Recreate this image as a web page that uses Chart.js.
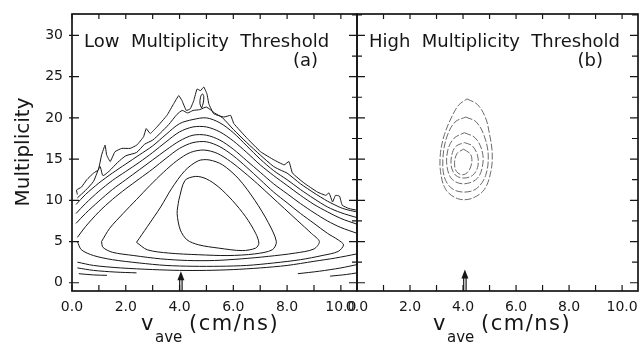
<!DOCTYPE html>
<html>
<head>
<meta charset="utf-8">
<script src="https://cdn.jsdelivr.net/npm/chart.js@4/dist/chart.umd.min.js"></script>
<style>
body { margin: 0; background: #fff; }
#wrap { position: relative; width: 640px; height: 345px; }
#wrap canvas { position: absolute; left: 0; top: 0; }
</style>
</head>
<body>
<div id="wrap">
  <canvas id="low" width="640" height="345"></canvas>
  <canvas id="high" width="640" height="345"></canvas>
</div>
<script>
const ink = '#161616';
const tickFont = { family: 'DejaVu Sans', size: 14 };

const xRange = [0, 10.6];
const yRange = [-1, 32.6];
const panelTitles = ['Low  Multiplicity  Threshold', 'High  Multiplicity  Threshold'];
const panelTags = ['(a)', '(b)'];
const yTitle = 'Multiplicity';
const arrowX = [4.05, 4.07];
const arrowTip = [1.4, 1.6];

// panel (a): open contours, outer to inner
const lowLevel1 = [[0.2,10.7],[0.17,11.25],[0.35,11.6],[0.55,12.5],[0.8,13.3],[0.98,13.7],[1.1,15.5],[1.23,16.7],[1.29,15.5],[1.42,14.7],[1.6,15.9],[1.85,16.3],[2.16,16.3],[2.41,16.7],[2.66,17.7],[2.76,18.7],[2.91,18.1],[3.16,18.9],[3.53,20.3],[3.78,21.7],[3.97,22.7],[4.09,22.1],[4.25,20.9],[4.4,21.1],[4.53,22.1],[4.65,23.5],[4.78,23.3],[4.9,23.75],[5.02,22.9],[5.09,21.7],[5.27,20.5],[5.65,20.1],[5.9,20.3],[6.02,19.3],[6.52,17.5],[7.01,15.9],[7.51,14.9],[7.89,14.3],[8.07,14.7],[8.2,13.3],[8.63,12.1],[9.13,11.0],[9.44,10.6],[9.56,10.9],[9.69,9.8],[9.8,10.6],[9.95,10.5],[10.05,9.4],[10.3,9.0],[10.6,8.8]];
const lowLoop = [[4.82,21.2],[4.88,21.8],[4.9,22.6],[4.85,22.9],[4.78,22.5],[4.76,21.7],[4.82,21.2]];
const lowLevel2 = [[0.2,10.3],[0.5,11.2],[0.8,12.3],[1.04,14.1],[1.15,13.0],[1.4,13.6],[1.7,14.6],[2.0,15.4],[2.4,15.8],[2.7,16.8],[3.0,17.3],[3.3,18.2],[3.6,19.2],[3.9,20.4],[4.1,20.9],[4.3,20.6],[4.5,20.9],[4.75,21.0],[5.0,21.3],[5.3,20.6],[5.6,20.0],[6.0,18.6],[6.5,17.0],[7.0,15.5],[7.5,14.1],[7.8,13.6],[8.0,13.3],[8.5,12.0],[9.0,10.9],[9.5,9.9],[10.0,9.1],[10.3,8.8],[10.6,8.6]];
const lowLevel3 = [[0.15,9.5],[0.5,10.7],[1.0,12.1],[1.5,13.3],[2.0,14.4],[2.5,15.5],[3.0,16.6],[3.5,18.0],[4.0,19.3],[4.5,19.8],[5.0,20.0],[5.5,19.4],[6.0,18.2],[6.5,16.6],[7.0,15.0],[7.5,13.6],[8.0,12.5],[8.5,11.3],[9.0,10.2],[9.5,9.2],[10.0,8.5],[10.6,7.9]];
const lowLevel4 = [[0.15,8.4],[0.5,9.6],[1.0,11.1],[1.5,12.4],[2.0,13.5],[2.5,14.6],[3.0,15.8],[3.5,17.1],[4.0,18.3],[4.5,18.9],[5.0,18.9],[5.5,18.3],[6.0,17.2],[6.5,15.8],[7.0,14.3],[7.5,13.0],[8.0,11.8],[8.5,10.6],[9.0,9.5],[9.5,8.6],[10.0,7.8],[10.6,7.1]];
const lowLevel5 = [[0.15,7.2],[0.5,8.4],[1.0,9.9],[1.5,11.3],[2.0,12.5],[2.5,13.7],[3.0,14.9],[3.5,16.1],[4.0,17.2],[4.5,17.9],[5.0,17.9],[5.5,17.3],[6.0,16.2],[6.5,14.8],[7.0,13.4],[7.5,12.0],[8.0,10.8],[8.5,9.6],[9.0,8.5],[9.5,7.5],[10.0,6.7],[10.6,6.0]];

// panel (a): closed contours, outer to inner
const lowRing4 = [[0.2,5.5],[0.5,6.8],[1.0,8.6],[1.5,10.1],[2.0,11.4],[2.5,12.6],[3.0,13.8],[3.5,15.1],[4.0,16.3],[4.5,17.0],[5.0,17.1],[5.5,16.5],[6.0,15.4],[6.5,14.0],[7.0,12.5],[7.5,11.0],[8.0,9.7],[8.5,8.4],[9.0,7.2],[9.5,6.0],[9.9,5.2],[10.1,4.6],[9.9,3.8],[9.3,3.3],[8.5,2.8],[7.5,2.4],[6.5,2.1],[5.5,2.0],[4.5,2.0],[3.5,2.1],[2.5,2.4],[1.5,2.8],[0.8,3.3],[0.35,4.0],[0.2,5.0]];
const lowRing3 = [[1.1,5.0],[1.4,6.6],[1.9,8.4],[2.4,10.1],[2.9,11.8],[3.4,13.4],[3.9,14.8],[4.4,15.8],[4.9,16.1],[5.4,15.7],[5.9,14.7],[6.4,13.4],[6.9,12.0],[7.4,10.5],[7.9,9.0],[8.4,7.5],[8.9,6.0],[9.2,5.0],[9.0,4.1],[8.3,3.6],[7.3,3.2],[6.3,2.9],[5.3,2.7],[4.3,2.7],[3.3,2.9],[2.3,3.3],[1.5,3.7],[1.15,4.3],[1.1,5.0]];
const lowRing2 = [[2.4,4.9],[2.8,6.8],[3.3,9.2],[3.7,11.4],[4.2,13.6],[4.7,14.8],[5.1,14.9],[5.6,14.3],[6.2,12.6],[6.8,10.0],[7.3,7.3],[7.6,5.0],[7.45,4.0],[6.8,3.5],[5.8,3.3],[4.7,3.4],[3.6,3.6],[2.8,4.0],[2.4,4.9]];
const lowRing1 = [[3.97,10.0],[3.91,8.4],[4.03,6.4],[4.28,5.2],[4.71,4.6],[5.46,4.2],[6.33,3.9],[6.83,4.2],[6.95,4.8],[6.83,6.0],[6.46,8.0],[5.96,10.0],[5.46,11.6],[5.0,12.6],[4.6,12.9],[4.2,12.4],[3.97,10.0]];

// panel (a): partial contours along the floor
const lowFloor1 = [[0.2,2.5],[0.8,2.1],[1.8,1.8],[3.0,1.6],[4.0,1.5],[5.0,1.5],[6.0,1.6],[7.0,1.8],[8.0,2.1],[9.0,2.6],[9.8,3.0],[10.6,3.5]];
const lowFloor2 = [[0.2,1.8],[0.8,1.5],[1.6,1.3],[2.4,1.2]];
const lowFloor3 = [[0.25,1.1],[0.8,0.95],[1.3,0.9]];
const lowFloor4 = [[8.4,1.1],[9.2,1.4],[10.0,1.8],[10.6,2.2]];
const lowFloor5 = [[9.6,0.8],[10.2,1.0],[10.6,1.2]];

// panel (b): nested rings, outer to inner
const highRing1 = [[4.15,22.3],[4.55,21.6],[4.85,20.0],[5.0,18.0],[5.1,15.8],[5.05,13.5],[4.8,11.3],[4.3,10.2],[3.8,10.2],[3.35,11.3],[3.15,13.5],[3.15,15.8],[3.3,18.0],[3.6,20.3],[3.85,21.6],[4.15,22.3]];
const highRing2 = [[4.1,20.1],[4.5,19.5],[4.8,17.8],[4.95,15.5],[4.85,13.0],[4.5,11.4],[4.0,11.0],[3.55,11.5],[3.28,13.0],[3.25,15.5],[3.4,17.8],[3.7,19.5],[4.1,20.1]];
const highRing3 = [[4.05,18.2],[4.45,17.6],[4.7,16.2],[4.75,14.5],[4.55,12.7],[4.05,12.0],[3.6,12.5],[3.4,14.0],[3.42,16.0],[3.65,17.5],[4.05,18.2]];
const highRing4 = [[4.05,17.0],[4.35,16.6],[4.55,15.4],[4.55,14.0],[4.35,13.0],[4.0,12.7],[3.7,13.1],[3.55,14.3],[3.6,15.8],[3.75,16.6],[4.05,17.0]];
const highRing5 = [[4.02,16.2],[4.28,15.6],[4.33,14.6],[4.2,13.5],[3.98,13.1],[3.75,13.5],[3.68,14.6],[3.78,15.7],[4.02,16.2]];

function contour(points, extra) {
    return Object.assign({
        data: points,
        showLine: true,
        pointRadius: 0,
        borderColor: ink,
        borderWidth: 1,
        tension: 0.3,
    }, extra || {});
}

function isStep(v, step) {
    return Math.abs(v / step - Math.round(v / step)) < 1e-6;
}

function axes(yWidth, showY) {
    return {
        x: {
            type: 'linear', min: xRange[0], max: xRange[1],
            grid: { display: false, drawTicks: false }, border: { display: false },
            ticks: {
                stepSize: 1, includeBounds: false, autoSkip: false, maxRotation: 0,
                padding: 8, color: ink, font: tickFont,
                callback: v => isStep(v, 2) ? v.toFixed(1) : '',
            },
            afterFit: s => { s.height = 54; s.paddingLeft = 0; s.paddingRight = 0; },
        },
        y: {
            type: 'linear', min: yRange[0], max: yRange[1],
            grid: { display: false, drawTicks: false }, border: { display: false },
            ticks: {
                display: showY, stepSize: 2.5, includeBounds: false, autoSkip: false,
                padding: 9, color: ink, font: tickFont,
                callback: v => isStep(v, 5) ? String(v) : '',
            },
            afterFit: s => { s.width = yWidth; s.paddingTop = 0; s.paddingBottom = 0; },
        },
    };
}

function drawArrow(ctx, px, base, tip) {
    ctx.beginPath();
    ctx.moveTo(px - 1.2, base); ctx.lineTo(px - 1.2, tip + 7);
    ctx.moveTo(px + 1.2, base); ctx.lineTo(px + 1.2, tip + 7);
    ctx.stroke();
    ctx.beginPath();
    ctx.moveTo(px, tip);
    ctx.lineTo(px - 3.5, tip + 9);
    ctx.lineTo(px + 3.5, tip + 9);
    ctx.closePath();
    ctx.fill();
}

function drawXTitle(ctx, left) {
    ctx.textAlign = 'left';
    ctx.textBaseline = 'alphabetic';
    ctx.font = '21px "DejaVu Sans"';
    ctx.fillText('v', left, 330);
    ctx.font = '15px "DejaVu Sans"';
    ctx.fillText('ave', left + 14, 342);
    ctx.font = '21px "DejaVu Sans"';
    ctx.letterSpacing = '1.5px';
    ctx.fillText('(cm/ns)', left + 48, 330);
    ctx.letterSpacing = '0px';
}

function frameTicks(chart, sides) {
    const { ctx, chartArea: a, scales: { x, y } } = chart;
    ctx.beginPath();
    x.ticks.forEach(t => {
        const px = x.getPixelForValue(t.value);
        ctx.moveTo(px, a.bottom); ctx.lineTo(px, a.bottom - 6);
        ctx.moveTo(px, a.top); ctx.lineTo(px, a.top + 5);
    });
    y.ticks.forEach(t => {
        if (!isStep(t.value, 2.5) || t.value < 0) return;
        const py = y.getPixelForValue(t.value);
        const major = isStep(t.value, 5);
        if (sides.left === 'out' && major) {
            ctx.moveTo(a.left - 3, py); ctx.lineTo(a.left + 7, py);
        }
        if (sides.left === 'both') {
            const l = major ? 8 : 5;
            ctx.moveTo(a.left - l, py); ctx.lineTo(a.left + l, py);
        }
        if (sides.right === 'in') {
            ctx.moveTo(a.right, py); ctx.lineTo(a.right - (major ? 8 : 6), py);
        }
    });
    ctx.stroke();
}

const lowDecor = {
    id: 'lowDecor',
    afterDraw(chart) {
        const { ctx, chartArea: a, scales: { x, y } } = chart;
        ctx.save();
        ctx.strokeStyle = ink;
        ctx.fillStyle = ink;
        ctx.lineWidth = 1.7;
        ctx.strokeRect(a.left, a.top, a.right - a.left, a.bottom - a.top);
        ctx.lineWidth = 1.2;
        frameTicks(chart, { left: 'out' });
        drawArrow(ctx, x.getPixelForValue(arrowX[0]), a.bottom, y.getPixelForValue(arrowTip[0]));
        ctx.font = '18px "DejaVu Sans"';
        ctx.textAlign = 'left';
        ctx.textBaseline = 'alphabetic';
        ctx.fillText(panelTitles[0], 84, 47);
        ctx.textAlign = 'right';
        ctx.fillText(panelTags[0], 318, 66);
        drawXTitle(ctx, 141);
        ctx.save();
        ctx.translate(24, 152);
        ctx.rotate(-Math.PI / 2);
        ctx.textAlign = 'center';
        ctx.textBaseline = 'middle';
        ctx.font = '20px "DejaVu Sans"';
        ctx.fillText(yTitle, 0, 0);
        ctx.restore();
        ctx.restore();
    }
};

const highDecor = {
    id: 'highDecor',
    afterDraw(chart) {
        const { ctx, chartArea: a, scales: { x, y } } = chart;
        ctx.save();
        ctx.strokeStyle = ink;
        ctx.fillStyle = ink;
        ctx.lineWidth = 1.7;
        ctx.strokeRect(a.left, a.top, a.right - a.left, a.bottom - a.top);
        ctx.lineWidth = 1.2;
        frameTicks(chart, { left: 'both', right: 'in' });
        drawArrow(ctx, x.getPixelForValue(arrowX[1]), a.bottom, y.getPixelForValue(arrowTip[1]));
        ctx.font = '18px "DejaVu Sans"';
        ctx.textAlign = 'left';
        ctx.textBaseline = 'alphabetic';
        ctx.fillText(panelTitles[1], 369, 47);
        ctx.textAlign = 'right';
        ctx.fillText(panelTags[1], 603, 66);
        drawXTitle(ctx, 433);
        ctx.restore();
    }
};

const common = {
    responsive: false,
    animation: false,
    devicePixelRatio: 1,
    plugins: { legend: { display: false }, tooltip: { enabled: false } },
};

new Chart(document.getElementById('low'), {
    type: 'scatter',
    data: {
        datasets: [
            contour(lowLevel1, { tension: 0.1 }),
            contour(lowLoop, { tension: 0.4 }),
            contour(lowLevel2, { tension: 0.2 }),
            contour(lowLevel3),
            contour(lowLevel4),
            contour(lowLevel5),
            contour(lowRing4),
            contour(lowRing3),
            contour(lowRing2),
            contour(lowRing1),
            contour(lowFloor1),
            contour(lowFloor2),
            contour(lowFloor3),
            contour(lowFloor4),
            contour(lowFloor5),
        ],
    },
    options: Object.assign({}, common, {
        layout: { padding: { left: 0, right: 283, top: 14, bottom: 0 } },
        scales: axes(72, true),
    }),
    plugins: [lowDecor],
});

new Chart(document.getElementById('high'), {
    type: 'scatter',
    data: {
        datasets: [highRing1, highRing2, highRing3, highRing4, highRing5].map(r =>
            contour(r, { borderColor: '#6a6a6a', borderDash: [7, 2], tension: 0.35 })),
    },
    options: Object.assign({}, common, {
        layout: { padding: { left: 0, right: 2, top: 14, bottom: 0 } },
        scales: axes(357, false),
    }),
    plugins: [highDecor],
});
</script>
</body>
</html>
